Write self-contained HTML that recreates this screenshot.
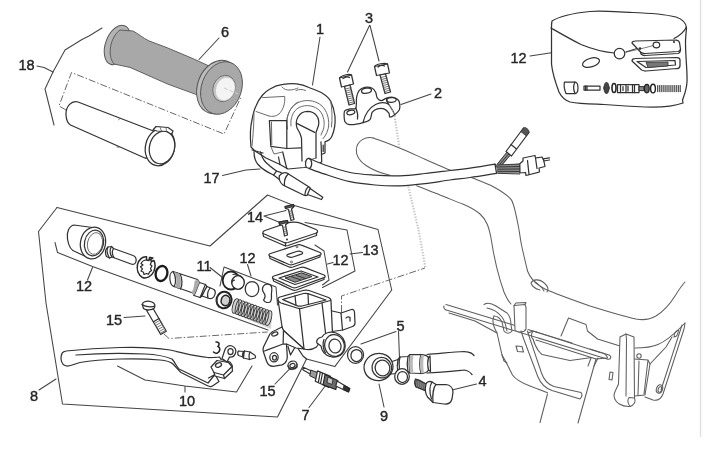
<!DOCTYPE html>
<html><head><meta charset="utf-8">
<style>
html,body{margin:0;padding:0;background:#fff;}
svg{display:block;}
.l{fill:none;stroke:#333;stroke-width:1.25;stroke-linecap:round;stroke-linejoin:round;}
.w{fill:#fff;stroke:#333;stroke-width:1.25;stroke-linecap:round;stroke-linejoin:round;}
.b{fill:none;stroke:#444;stroke-width:1.05;stroke-linecap:round;stroke-linejoin:round;}
.f{fill:none;stroke:#5e5e5e;stroke-width:1.05;stroke-linecap:round;stroke-linejoin:round;}
.fw{fill:#fff;stroke:#5e5e5e;stroke-width:1.05;stroke-linecap:round;stroke-linejoin:round;}
.hl{fill:none;stroke:#6a6a6a;stroke-width:1;stroke-linecap:round;stroke-linejoin:round;}
.t{fill:none;stroke:#555;stroke-width:0.8;stroke-linecap:round;stroke-linejoin:round;}
.d{fill:none;stroke:#686868;stroke-width:1;stroke-dasharray:7 2 1.5 2;}
.k{fill:none;stroke:#222;stroke-width:2;}
text{font-family:"Liberation Sans",sans-serif;font-size:14.5px;fill:#262626;stroke:#262626;stroke-width:0.4;}
</style></head>
<body>
<svg width="720" height="452" viewBox="0 0 720 452">
<defs><filter id="b" x="-2%" y="-2%" width="104%" height="104%"><feGaussianBlur stdDeviation="0.45"/></filter></defs>
<rect width="720" height="452" fill="#fff"/>
<g filter="url(#b)">
<!-- page edge lines -->
<path d="M700.500 0V437" stroke="#dedede" stroke-width="1.3" fill="none"/>
<!-- SECTION: grip 6 -->
<g id="grip">
<ellipse cx="117.500" cy="45" rx="12" ry="20.500" transform="rotate(20 117.500 45)" fill="#b4b4b4" stroke="#555" stroke-width="1"/>
<path d="M133 31 C138 33.500 143 38 148.800 40.800 L167.300 47.800 L193.400 58.800 L209 66 L200 96 L194.800 94 L167.500 84 L130 67.400 L114 64 C107 56 110 37 120 30 Z" fill="#a8a8a8" stroke="#555" stroke-width="0.9"/>
<ellipse cx="218" cy="87" rx="20.5" ry="27.5" transform="rotate(20 218 87)" fill="#bdbdbd" stroke="#555" stroke-width="1"/>
<ellipse cx="221.5" cy="88" rx="20" ry="27" transform="rotate(20 221.5 88)" fill="#a8a8a8" stroke="#555" stroke-width="0.9"/>
<ellipse cx="224" cy="88.500" rx="11" ry="13.5" transform="rotate(20 224 88.500)" fill="#c4c4c4" stroke="#666" stroke-width="0.8"/>
<ellipse cx="225.300" cy="89" rx="9.500" ry="12" transform="rotate(20 225.300 89)" fill="#f3f3f3" stroke="#bbb" stroke-width="0.5"/>
<path d="M224 88 L238 94" stroke="#ccc" stroke-width="1" stroke-dasharray="4 2"/>
</g>

<!-- SECTION: bracket 18, dashed box, tube -->
<g id="b18">
<path class="b" d="M102 28 L89 36 L82 39.5 L65 50 L53 72 L45 89 L54 125"/>
<path class="b" d="M37 66 L44 67.5 L53 72"/>
<path class="d" d="M66 110 L59 106 L71.5 72.5 L224 134 L241 97"/>
<!-- tube -->
<path class="w" d="M78 102 C72 100 65.500 106 66 115 C66.300 120 68 123.500 70.500 125 L146 158.500 L156 132 Z"/>
<path class="t" d="M118.500 119.800 L120 118.500 M117 147 L119 147.200"/>
<ellipse class="w" cx="160" cy="147" rx="14.5" ry="19" transform="rotate(14 160 147)"/>
<ellipse class="w" cx="162" cy="147.5" rx="12.5" ry="16.5" transform="rotate(14 162 147.5)"/>
<path class="w" d="M153 130 L156 126.5 L168 127.5 L173 131 L171.5 134.5 L167 131.5 L157 131 Z"/>
<path class="t" d="M160 127 L161.5 131 M166 127.5 L166.5 131.3"/>
</g>
<!-- SECTION: labels top -->
<g id="lab1">
<text x="18.5" y="70.3">18</text>
<text x="221" y="36.5">6</text>
<path class="b" d="M219 38 L199 59.5"/>
<text x="316" y="34">1</text>
<path class="b" d="M320 37 L312.5 85"/>
<text x="365" y="22.7">3</text>
<path class="b" d="M369.5 25.5 L347.5 72 M370 25.5 L379 61"/>
<text x="434" y="98">2</text>
<path class="b" d="M431 94 L401 104.5"/>
<text x="203.5" y="183">17</text>
<path class="b" d="M222.5 175.5 L246 170 L260 169"/>
<text x="510.5" y="62.5">12</text>
<path class="b" d="M530 56 L551.500 52.700"/>
</g>

<!-- SECTION: switch housing 1 -->
<g id="housing">
<path class="w" stroke-width="1.6" d="M251 147 C250 137 250.500 126 252 120 C253 114 254 110 256 106 C258 101 260 98 262.600 95 C266 91.500 268 90 270 89 C274 86.500 278 85 283 84.400 C288 83.600 292 83.500 296.600 83.800 C301 84.300 305 85.500 309 87.500 C314 89.500 318 91 322 93 C326 95.500 329 98 330.700 101.400 C333 106 334.500 111 335 116.500 C335.500 123 334.500 130 332 136 C330.500 139.500 328 141 325 141.800 L325 153 L321.500 154.500 L321.700 162 L313 166 L304 167.500 L288 169 L280 164.500 L266 158 L255 151 Z"/>
<!-- upper-left panel -->
<path class="hl" d="M262.600 97.600 L284.700 96.400 C285 100 284.500 103 284 105 C283 109 281 112 279 114 C276 116.500 272 116.800 269 116 L256 111.500"/>
<!-- top oval -->
<path class="hl" d="M282 87 C284 89.500 287 90.300 290 90 C293 89.800 296 89 298 88 M296 90.500 C299 89 303 89.200 305.500 90.500"/>
<!-- concentric arcs around hole (center ~307,122) -->
<path class="hl" d="M287.500 129 C285.500 120 288 110 295 104.500 C303 98.500 315 99.500 322 106 C327 111 329 118 328.700 125 C328.500 130 326 135.500 323 138.700"/>
<path class="hl" d="M291 126 C290 118 293 111 299 107.500 C306 104 315 105.500 320 111 C324 116 325 123 323.500 129 L321 135"/>
<path class="hl" d="M286.800 119.700 C288 112 292 105.500 298 102 M330.700 101.400 C332 108 332.500 118 331.500 127"/>
<!-- hole + slot (dark) -->
<path class="l" stroke-width="1.5" d="M297 128 C294.500 120 299 111.500 307.500 111.300 C315.500 111.300 320 118 318.500 125.500 L316 132.500 L316 158 M297 128 L300 133.500 L301.500 138 L302 161"/>
<path class="l" d="M296.700 123.400 L314.700 132.400"/>
<!-- button rect -->
<path class="l" d="M269.400 120.600 L286.800 120.600 L286.800 148.500 L270.800 146.400 Z"/>
<path class="hl" d="M271.500 122 L271.800 145"/>
<!-- lower details -->
<path class="l" d="M286.800 148.500 L300.800 147.800 M282.700 152 L286.800 168.700 M278.500 157 L280 164.500 M252 150 L263 153"/>
<path class="hl" d="M270.800 146.400 L274 154 L282.700 152 M316 158 L305 161.500"/>
<path class="l" d="M321 141.800 L321.500 154.500 M323.200 145 V151.500"/>
<path class="hl" d="M254 113 C254 124 253 136 252 146"/>
</g>
<!-- SECTION: bolts 3 and clamp 2 -->
<g id="clamp">
<path class="w" d="M339.5 78 L351.5 75 L353.5 84 L341.5 87 Z"/>
<path class="l" d="M339.5 78 C341 75.5 349 73.5 351.5 75 M343 78.5 C345 77 348 76.5 349.5 77.5"/>
<path class="w" d="M344.5 86.5 L350 85 L354.5 103.5 L349 105 Z"/>
<path class="t" d="M345.5 89 L351 87.6 M346 91 L351.5 89.6 M346.5 93 L352 91.6 M347 95 L352.5 93.6 M347.5 97 L353 95.6 M348 99 L353.5 97.6 M348.5 101 L354 99.6 M349 103 L354.5 101.6"/>
<path class="w" d="M374.5 66.5 L387.5 64 L389.5 73 L376.5 75.5 Z"/>
<path class="l" d="M374.5 66.5 C376 64 385 62.5 387.5 64 M378 67 C380 65.5 383 65.2 384.5 66"/>
<path class="w" d="M380 75 L385.5 74 L390.5 92 L385 93.5 Z"/>
<path class="t" d="M381 77.5 L386.5 76.2 M381.5 79.5 L387 78.2 M382 81.5 L387.5 80.2 M382.5 83.5 L388 82.2 M383 85.5 L388.5 84.2 M383.5 87.5 L389 86.2 M384 89.5 L389.5 88.2 M384.5 91.5 L390 90.2"/>
<!-- clamp -->
<path class="w" stroke-width="1.35" d="M344.1 113.9 C344.1 112.2 344.1 111.3 345.0 110.6 C345.9 109.8 348.4 109.3 350.0 108.9 C351.6 108.5 354.8 109.8 355.8 108.1 C356.8 106.4 356.1 99.9 356.6 97.3 C357.1 94.7 357.9 92.2 359.1 90.7 C360.3 89.2 362.9 87.8 364.9 87.4 C366.9 87.0 370.7 87.5 372.3 88.2 C373.9 88.9 374.9 90.8 375.7 92.3 C376.4 93.8 376.4 96.9 377.3 98.1 C378.2 99.3 380.1 100.6 381.5 100.6 C382.9 100.6 384.7 98.6 386.4 98.1 C388.1 97.6 391.4 97.0 393.1 97.3 C394.8 97.6 397.0 98.8 398.0 99.8 C399.0 100.8 399.5 102.4 399.7 103.9 C399.9 105.4 400.1 108.2 399.4 109.8 C398.6 111.4 396.1 113.6 394.7 114.7 C393.3 115.8 390.7 117.4 389.8 117.2 C388.9 117.0 389.8 114.3 388.9 113.1 C388.0 111.9 385.6 109.5 383.9 108.9 C382.2 108.3 379.0 108.4 377.3 108.9 C375.6 109.4 373.4 110.6 372.3 112.2 C371.2 113.8 371.3 118.1 369.9 119.7 C368.5 121.3 366.2 122.0 363.2 122.7 C360.2 123.5 352.7 124.9 350.0 124.7 C347.3 124.5 345.9 123.3 345.0 121.7 C344.1 120.1 344.1 115.6 344.1 113.9 Z"/>
<ellipse class="l" cx="366.5" cy="90.7" rx="5" ry="2.5" transform="rotate(-10 366.5 90.7)"/>
<ellipse class="l" cx="350.8" cy="112.5" rx="4" ry="2.1" transform="rotate(-12 350.8 112.5)"/>
<ellipse class="l" cx="391.4" cy="100" rx="4.8" ry="2.3" transform="rotate(-5 391.4 100)"/>
<path class="l" d="M363 122.500 C365 114 369 108 375.500 104.500 C380 102.300 385 102.500 388 104 M355.800 108.100 C357.500 112 358 116 357.500 119 M386.500 98.500 C386.500 101 387.500 103 389.500 105.500 C392 109 393.500 112 394.700 114.700"/>
</g>

<!-- SECTION: handlebar + frame right -->
<g id="bar">
<path class="f" d="M373.300 138 C366 136 357 140.500 356.300 149.500 C356 156 360 161.500 366 165.500 C372 169.500 380 173 390 175.200"/>
<path class="f" d="M373.3 138.0 C377.5 139.6 389.7 144.0 398.3 147.5 C406.9 151.0 416.4 155.4 425.0 159.2 C433.6 162.9 441.9 166.8 450.0 170.0 C458.1 173.2 466.1 175.5 473.3 178.3 C480.5 181.1 487.5 183.6 493.3 186.7 C499.1 189.8 504.9 193.6 508.3 196.7 C511.7 199.8 511.8 199.9 513.5 205.0 C515.2 210.1 517.2 220.3 518.5 227.0 C519.8 233.7 520.0 237.7 521.5 245.0 C523.0 252.3 526.5 266.7 527.5 271.0 C531 280 537 285 545 289 C556 294 570 299 590 306 C606 311 622 316 636 319 C644 320.5 650 319.5 656 316 C664 311 670 304 675 296 C680 288 683 284 685 282"/>
<path class="f" d="M416.700 185.800 C426 189.500 434 192.500 440 195 C449 198.500 457 202 463.300 204.200 C470 207 476 210.500 480 214 C487 220 489 228 491 238 C494 258 499 278 504 292 C507 299 509 302 511 304"/>
<!-- center dotted line -->
<path d="M394.5 116 L399.300 147 M408.300 186.500 L418.6 230 L425.5 268" fill="none" stroke="#c4c4c4" stroke-width="2.2" stroke-dasharray="1.3 1.5"/>
<path d="M395.5 116 L388 104" fill="none" stroke="#bbb" stroke-width="1.2" stroke-dasharray="1.2 1.6"/>
</g>
<!-- SECTION: cable and connectors -->
<g id="cable">
<path class="w" d="M309.0 158.3 C311.7 159.4 318.2 162.6 325.0 165.0 C331.8 167.4 341.7 170.8 350.0 172.5 C358.3 174.2 366.7 174.6 375.0 175.2 C383.3 175.8 391.7 176.1 400.0 175.8 C408.3 175.5 416.7 174.4 425.0 173.5 C433.3 172.6 442.5 171.4 450.0 170.5 C457.5 169.6 462.5 169.2 470.0 168.2 C477.5 167.1 490.8 164.9 495.0 164.2 L496.5 173.3 C492.1 174.0 477.8 176.4 470.0 177.5 C462.2 178.6 457.5 179.0 450.0 180.0 C442.5 181.0 433.3 182.7 425.0 183.7 C416.7 184.7 408.3 185.6 400.0 185.8 C391.7 186.0 383.3 185.7 375.0 185.0 C366.7 184.3 358.3 183.5 350.0 181.7 C341.7 179.9 332.2 176.6 325.0 174.2 C317.8 171.8 309.6 168.6 306.5 167.5 C304.500 165 305.500 158 309 158.300 Z"/>
<path class="l" d="M309 158.300 C312.500 160 312.500 166.500 309.500 168.600"/>
<path class="l" d="M495 164.200 C497.500 166 498.500 170.500 496.500 173.300"/>
<path d="M496.500 164.500 L507 152 L510.500 155 L503 165 L520 163.500 L520 173.500 L497.500 173.500 Z" fill="#8c8c8c" stroke="none"/>
<path d="M497 165 L520 164 M497 167 L520 166.500 M497.500 169.200 L520 169 M497.500 171.300 L520 171.500 M497.500 173.300 L520 174 M497 164.500 L507 152 M499.500 164.500 L509 153.500 M502 164.500 L510.500 155" stroke="#2c2c2c" stroke-width="0.900" fill="none"/>
<path class="w" d="M506 151.500 L511.500 156 L529 132.500 L523.500 128 Z"/>
<path d="M520.800 131.500 L523.500 128 C525 126.500 529.500 129.500 529 132.500 L526.300 136 Z" fill="#555" stroke="#333" stroke-width="0.800"/>
<path class="l" d="M511 144.500 L516.500 149"/>
<path class="w" d="M519.800 163.800 L523 161 L523 158 L535 155.500 L535.500 158 L542 157 L543.700 160 L545 166.500 L539 168 L539.500 172 L526 175.500 L525.500 172.500 L520 173 Z"/>
<path class="l" d="M543 158.800 L549.500 157.800 M543.500 161 L549.500 160 M527.500 160.500 L529 174.500 M535.500 158 L537 168.500"/>
<!-- wire 17 -->
<path class="l" stroke-width="1.4" d="M254 151.500 C254 157 255 161 258 164.500 C262 169 268 172.500 273.500 175 M260.500 152 C261.500 156 263 159.500 266 162.500 C269 165.500 273 168.500 276.500 171"/>
<path class="w" stroke-width="1.4" d="M273.500 175 L276.500 171 L280.500 172.300 L284 175.500 L280 180 Z"/>
<path class="w" stroke-width="1.4" d="M279.500 175.500 C281 173.500 284 172.300 286.500 172.800 L309.500 187.300 C311 188.500 311 190 310 191.500 L308 194.500 C307 195.500 305.500 195.800 304 195.200 L283 185 C280 183 278.500 178.500 279.500 175.500 Z"/>
<path class="l" d="M288.500 173.800 C285.500 176.500 284 181 284.500 185.500 M308.500 186.800 C306.500 188.500 305 191.500 305 195"/>
<path class="w" stroke-width="1.300" d="M310 188.500 L322.800 197.300 L321.500 199.500 L307.500 194.500 Z"/>
</g>

<!-- SECTION: frame bottom-right -->
<g id="frame">
<!-- small bolt on bar -->
<path class="f" d="M531 283 C533 279 539 279 543 282 C547 285 549 289 547 292 M535 282 C538 284 542 287 544 291 M531 283 C532 286 536 289 540 290"/>
<!-- upper bar double line -->
<path class="f" d="M444 306 C443 308 445 310 448 310.500 L607 359 M446 304.500 L520 327 M528 329.500 L572 343 M590 349 L609 355 C612 356.500 611 360 607 359"/>
<!-- left plate -->
<path class="f" d="M449 313 L475 321 L486 327 L497 333"/>
<path class="f" d="M484 304.500 C487 302.500 492 303.500 496 306 L507 313 C510 316 511 320 511 325 L512 331 C510 334 506 334 504 331 L502 322 C500 318 497 316 494 316 M487 308 C492 309 498 312 502 317 C505 321 506 326 507 331"/>
<path class="f" d="M494 316 C492 320 493 326 497 333 L502 355 L506 362 L512.500 375 C516 380 522 383 530 386 L547.500 392.700"/>
<path class="f" d="M502 355 L504 361 L507 363"/>
<path class="fw" d="M514 305.500 L525 304.500 L526 307 L526 329 C524 333 518 333 515 330 Z"/>
<path class="f" d="M514 305.500 L516 303 L526 302.500 L525 304.500"/>
<path class="f" d="M516 346 L522 346.500 L523.500 352 L517.500 351.500 Z"/>
<path class="f" d="M521 331 L523.700 339 L538 377 C540 382 545 388 552 390.500 L580 399 C582 397 582.500 394.500 581 392.500 M527.500 331 L530 339 L541.500 373 C543.500 379 548 384.500 554 386.500 L581 392.500"/>
<!-- tray -->
<path class="f" d="M528 333 L533 331 L600 352.500 M533 331 C531 334 531 337 533 339 M536 340 L596 359 L607 358"/>
<path class="f" d="M533 339 C535 346 538 351 542 354.500 L570 360.500 L592 357.500"/>
<path class="f" d="M596 359 L578 423 M591 358 L588 366 M547.500 394 L540 422.500"/>
<path class="f" d="M600 352.500 C604 353 607 355 607.500 358 M598 358 L594 366"/>
<!-- stepped block -->
<path class="f" d="M561 336 L568.500 318 L586 324.500 L587.500 331 L597.500 339 L620 346"/>
<!-- second body line -->
<path class="f" d="M635 348 C645 348 652 347 658 344.500 C666 341 674 334 680 328 L685 323"/>
<!-- vertical bar -->
<path class="fw" d="M620 337 L626 334 L634 337 L634.500 398 C636 402 634 405 630 406.500 C622 407 615 403 614 396 C614 392 617 388 618.500 384 Z"/>
<path class="f" d="M626 334 L626.500 340 L626 396 M630 406.500 C628 404 627 400 629 397.500 L634.500 398"/>
<path class="f" d="M610 372 L613 372.500 L612 380 L609 379.500 Z"/>
<!-- block behind -->
<path class="f" d="M634.500 359 L648 360 L650 364 L645 395 L634.500 396 M639 361 L638 395 M648 360 L644 394"/>
<circle class="f" cx="639" cy="356" r="2.200"/>
<!-- right arm -->
<path class="f" d="M685 323 L684 329 L663 394 C661 399 657 401 653 400 L645 397"/>
<path class="f" d="M672 337 L666 347 L650 364 M678.500 330 C676 331 674 334 674 337 C676 337 678 335 678.500 330"/>
<path class="f" d="M682 325 L661 390"/>
<ellipse class="f" cx="659.500" cy="389" rx="3" ry="4.300" transform="rotate(20 659.500 389)"/>
<ellipse class="f" cx="660" cy="389.500" rx="1.800" ry="2.800" transform="rotate(20 660 389.500)"/>
</g>

<!-- SECTION: inset bag 12 -->
<g id="bag">
<path class="l" d="M552 21 C560 16 575 13 590 11.500 C604 10.500 618 12 632 12.500 C648 13 664 14 676 17 C682 19 686 23 686.500 28 C686 34 685.500 38 685.500 42 C685.500 50 686 56 686.300 62 C686.800 70 687.300 76 687 82 C686.500 90 684 96 682.500 100 L683 103 C672 107 658 107.500 645 107 C630 106.500 616 105.500 604 104.500 C592 104 580 104 570 102 C564 100 561 96 559 92 C556 84 552.500 74 551.500 64 L551.500 28 C551.500 25 551.500 23 552 21 Z"/>
<path class="l" d="M551 28 C558 32 570 39 581 44.500 C592 49 604 52 614 53 M626 52 C632 50 638 48 643 46.500 M686.500 27 C684 32 680 35.500 674 38.500"/>
<circle class="w" cx="619.500" cy="53.600" r="5.300"/>
<ellipse class="l" cx="591" cy="62.600" rx="8.800" ry="4.300" transform="rotate(-17 591 62.600)" stroke-width="1.700"/>
<!-- plate 1 -->
<path class="w" d="M632 43 C632 41.500 633 41 635 41 L676 40 C678 40 679 41 679.500 42.500 L680.500 49 C680.500 50.500 680 51 678 51.500 L645 53.500 C643 53.500 641.500 53 640.500 52 Z"/>
<path class="l" d="M640.500 52 L641 54 C642 55 643.500 55.500 645 55.500 L678 53.500 C680 53 680.500 52 680.500 49"/>
<ellipse class="l" cx="656.400" cy="45" rx="3.300" ry="2.800"/>
<path class="t" d="M626 52 L640 49 L653.500 45.500"/>
<circle cx="640" cy="48.500" r="1.300" fill="#333"/><circle cx="674" cy="42" r="1.100" fill="#333"/>
<!-- plate 2 -->
<path class="w" d="M632 61 C632 59.500 633 58.500 635 58.500 L677 57.500 C679 57.500 680 58.500 680 60 L680 65.500 C680 67.500 679 68.500 677 68.500 L646 71 C643 71 641 70 640 68.500 Z"/>
<path class="l" d="M637 61.500 L675 60.500 L675.500 65 L646 67.500 Z"/>
<path d="M646 62.500 L668 62 L668 66 L648 67.500 Z" fill="#777" stroke="#333" stroke-width="0.8"/>
<!-- piston row -->
<path class="w" d="M564.500 82 L575 82 C577.500 82 578 85 578 88 C578 91 577.500 93.500 575 93.500 L566 93.500 C564.500 90 563.500 86 564.500 82 Z"/>
<path class="l" d="M575 82 C573.500 85 573.500 90 575 93.500"/>
<path class="w" d="M584 86 L600 86 L600 90 L584 90 Z"/>
<path class="l" d="M587 86 V90 M585.500 86 V90"/>
<path d="M603.500 88 L605 83.500 L606.500 82 L608 83.500 L609.500 88 L608 92.500 L606.500 94 L605 92.500 Z" fill="#444" stroke="#222" stroke-width="0.8"/>
<ellipse cx="614" cy="88" rx="2" ry="4.500" fill="none" stroke="#222" stroke-width="1.600"/>
<g transform="translate(0 0.6)">
<path class="w" d="M617.500 84 L639 84 L639 92 L617.500 92 Z"/>
<path class="l" d="M620.500 84 V92 M626 84 V92 M628 85.500 V90.500 M632.500 84 V92 M634.500 84 V92 M623 86 V90"/>
<path d="M639 86 L644 86 L644 90 L639 90 Z" fill="#888" stroke="#222" stroke-width="0.900"/>
<ellipse cx="646.800" cy="88" rx="2.400" ry="4.300" fill="#666" stroke="#222" stroke-width="1.200"/>
<ellipse cx="653" cy="88" rx="2.400" ry="4.300" fill="#fff" stroke="#222" stroke-width="1.400"/>
<path d="M657 84.500 H680.500 V91.500 H657 Z" fill="#c8c8c8" stroke="none"/>
<path d="M657.500 84.500 V91.500 M659.600 84.500 V91.500 M661.700 84.500 V91.500 M663.800 84.500 V91.500 M665.900 84.500 V91.500 M668 84.500 V91.500 M670.100 84.500 V91.500 M672.200 84.500 V91.500 M674.300 84.500 V91.500 M676.400 84.500 V91.500 M678.500 84.500 V91.500 M680.400 84.500 V91.500" stroke="#444" stroke-width="0.900" fill="none"/>
</g>
</g>

<!-- SECTION: brackets lower-left -->
<g id="brk">
<path class="b" d="M57 207.500 L38.500 231.500 L46 303 L62.500 404 L277.500 417 L306.500 359 L334.800 366.600 L391.700 290"/>
<path class="b" d="M57 207.500 L210 246 L267.500 195 L292.500 205 L378 229.500 L391.700 290"/>
<path class="b" d="M55 242.500 L57.500 252.500 L92.500 266.500 L268 330"/>
<path class="d" d="M164 334 L169 338.500 L267.500 332"/>
<path class="d" d="M341.500 312 L341.500 296 L425 268"/>
<path class="b" d="M305 222.500 L347 230 L355 271 L322.500 287.500"/>
<path class="b" d="M315 245 L324 251 L329 280 L322.500 285"/>
<path class="b" d="M220 286 L224 267 L276 287 L277.500 305"/>
<path class="b" d="M117.500 366 L145 380 L185 386 L236.500 392 L252 366 M185 386 V392"/>
</g>
<!-- SECTION: labels lower -->
<g id="lab2">
<text x="247" y="221.500">14</text>
<path class="b" d="M264 216 L286 210.500 M264 216 L280 222.500"/>
<text x="362.500" y="255">13</text>
<path class="b" d="M350 254 L362.500 252.500"/>
<text x="332.500" y="265">12</text>
<path class="b" d="M327.500 264 L333 262.500"/>
<text x="239.500" y="263">12</text>
<path class="b" d="M247.500 264.500 L251 276"/>
<text x="196.500" y="270.500">11</text>
<path class="b" d="M210 267.500 L222.500 277.500"/>
<text x="76" y="291">12</text>
<path class="b" d="M92.500 267.500 L87.500 280"/>
<text x="106" y="325">15</text>
<path class="b" d="M124 317.500 L145 316"/>
<text x="30" y="400.500">8</text>
<path class="b" d="M39 390 L56 379"/>
<text x="179" y="405.500">10</text>
<text x="259.500" y="395.500">15</text>
<path class="b" d="M275 384 L291 367.500"/>
<text x="301.500" y="419.500">7</text>
<path class="b" d="M309 407.500 L326 385"/>
<text x="380" y="420.500">9</text>
<path class="b" d="M384 407 L379 384"/>
<text x="396.500" y="330.500">5</text>
<path class="b" d="M396 331.500 L361 344 M398.500 331.500 L400 372"/>
<text x="478.500" y="386">4</text>
<path class="b" d="M476.500 384 L452 390"/>
</g>

<!-- SECTION: piston line parts -->
<g id="parts1">
<!-- cap 12 -->
<path class="w" d="M74 225 C69 226 66.500 232 67.500 239 C68.500 246 72 251 76 252 L90 258.500 L96 228 Z"/>
<ellipse class="w" cx="93" cy="243" rx="12.500" ry="16" transform="rotate(12 93 243)"/>
<ellipse class="l" cx="94" cy="243" rx="9.500" ry="13" transform="rotate(12 94 243)"/>
<ellipse class="t" cx="95" cy="243.500" rx="7.500" ry="11" transform="rotate(12 95 243.500)"/>
<!-- pin -->
<path class="w" d="M108 247 L111.500 246.500 L113.500 248.500 L133 255.500 C135.500 256.500 136.500 259 136 261.500 C135.500 264 133.500 265 131 264 L112 257 L109.500 258 L106.500 256.500 C105 253 105.500 249 108 247 Z"/>
<path class="l" d="M111.500 246.500 C109.500 249.500 109.500 254 112 257 M113.500 248.500 C112 251 112 254.500 114 257.500 M108 247 C106.500 250 107 254 109.500 258"/>
<!-- star washer -->
<path d="M146.500 256.800 C142.500 256.300 138.800 259.500 137.500 264.500 C136.300 270 138.500 275.500 142.500 277.500 C146.500 279 151.500 276.500 153.800 271.500 C155.300 268 155.300 263.500 154 260.500 L151.500 261.500 L150.500 259.500 L152.800 258 C151.500 257.300 150.500 257.300 149.500 257.500 L149 260.500 L146.500 260 Z" fill="#fff" stroke="#2a2a2a" stroke-width="1.500" stroke-linejoin="round"/>
<path d="M146.500 260 C144 260 142 261.500 141 263.500 L143 265 L140.500 266.800 L142.500 268.800 L141 271 L143.500 272.300 L144 274.500 L146.500 273.500 L148.500 274.300 L149.500 272 L151.500 270.500 L150.500 268.500 L152 266 L150.300 264.500 L151.500 261.500" fill="none" stroke="#2a2a2a" stroke-width="1.200" stroke-linejoin="round"/>
<!-- o-ring -->
<ellipse cx="161.500" cy="273.500" rx="5.800" ry="7.600" transform="rotate(14 161.500 273.500)" fill="none" stroke="#1a1a1a" stroke-width="2.300"/>
<!-- piston -->
<path class="w" stroke-width="1.600" d="M173 271.500 C170.500 272 169.500 276 170 280 C170.500 283.500 172 286 174 286.500 L193 293 L194 295.500 L200 297.500 L202 296 L208 298 C210 299 212.500 298.500 214 296.500 C215.500 294 215.500 291 214 289.500 L207 286.500 L205.500 284.500 L199.500 282.500 L197.500 279.500 Z"/>
<path class="l" d="M174 286.500 C176 284 176.500 276 173 271.500 M177.500 273 C180 277 180 284 178 288 M180 274 C182.500 278 182.500 285 180.500 289 M193 293 C195.500 289 196 283 197.500 279.500 M194 295.500 C196.500 291 197.500 286 199.500 282.500 M200 297.500 C202.500 293 203.500 288 205.500 284.500 M202 296 C204 292.500 205 289 207 286.500 M208 298 C207 295 208 291 210 288"/>
<path d="M174 272 L179 273.600 C181.500 278 181.500 285 179.500 288.600 L175 287 C177 283 177 276 174 272 Z M194.500 281 L197.500 279.500 L199.500 282.500 C197.500 286 196.500 291 194 295.500 L191.500 292.500 C194 289 194.500 284 194.500 281 Z" fill="#aaa" stroke="none"/>
<!-- seal -->
<ellipse cx="224" cy="300" rx="7.500" ry="8.300" transform="rotate(15 224 300)" fill="#fff" stroke="#222" stroke-width="2"/>
<ellipse cx="225.500" cy="300.500" rx="4.300" ry="5.200" transform="rotate(15 225.500 300.500)" fill="#d0d0d0" stroke="#222" stroke-width="1.500"/>
<path class="l" d="M217.500 296 C216 299 216.500 304 219 307"/>
<!-- spring -->
<g transform="translate(0 2)"><path d="M234 297 L272 311 L271 327 L232 311 Z" fill="#d2d2d2" stroke="none"/>
<g fill="none" stroke="#3a3a3a" stroke-width="0.950">
<ellipse cx="235.500" cy="304" rx="2.800" ry="7.500" transform="rotate(14 235.500 304)"/>
<ellipse cx="238.500" cy="305.100" rx="2.800" ry="7.500" transform="rotate(14 238.500 305.100)"/>
<ellipse cx="241.500" cy="306.200" rx="2.800" ry="7.500" transform="rotate(14 241.500 306.200)"/>
<ellipse cx="244.500" cy="307.300" rx="2.800" ry="7.500" transform="rotate(14 244.500 307.300)"/>
<ellipse cx="247.500" cy="308.400" rx="2.800" ry="7.500" transform="rotate(14 247.500 308.400)"/>
<ellipse cx="250.500" cy="309.500" rx="2.800" ry="7.500" transform="rotate(14 250.500 309.500)"/>
<ellipse cx="253.500" cy="310.600" rx="2.800" ry="7.500" transform="rotate(14 253.500 310.600)"/>
<ellipse cx="256.500" cy="311.700" rx="2.800" ry="7.500" transform="rotate(14 256.500 311.700)"/>
<ellipse cx="259.500" cy="312.800" rx="2.800" ry="7.500" transform="rotate(14 259.500 312.800)"/>
<ellipse cx="262.500" cy="313.900" rx="2.800" ry="7.500" transform="rotate(14 262.500 313.900)"/>
<ellipse cx="265.500" cy="315" rx="2.800" ry="7.500" transform="rotate(14 265.500 315)"/>
<ellipse cx="268.500" cy="316.100" rx="2.800" ry="7.500" transform="rotate(14 268.500 316.100)"/>
</g></g>
<!-- seal 11 -->
<ellipse cx="231" cy="280.500" rx="8.300" ry="9" fill="#fff" stroke="#222" stroke-width="1.800"/>
<ellipse cx="238" cy="282.500" rx="6.300" ry="6.800" fill="#fff" stroke="#222" stroke-width="1.300"/>
<path class="l" d="M233 274.500 C236 273.800 240 275 242 277.500 M231.500 283 C232 281 233 280 234.500 280"/>
<!-- ring 12 -->
<ellipse class="w" cx="252" cy="289" rx="6.800" ry="7.500"/>
<!-- clip -->
<path class="l" d="M263.500 286 C262 288 262.500 291 264 293 C265.500 295 265 298 263.500 300 C265 302.500 268 303 270 302 C272.500 300 271 296 271.500 293 C272 290 272.500 287 270.500 285 C268.500 283.500 265 284 263.500 286 Z"/>
</g>

<!-- SECTION: plates and screws -->
<g id="plates">
<!-- cover plate -->
<path class="w" stroke-width="1.4" d="M263 233.500 C262.500 232 263.500 231 265 230.500 L286 223.300 C291 222 297 222 301 223.300 L316 229.500 C318 230.500 318 232 316.500 233 L316.500 235.500 L288 245.500 C286 246 284.500 246 283 245 L263.500 236.500 Z"/>
<path class="l" d="M263 233.500 L283 242 C284.500 243 286 243 288 242.500 L316.500 233"/>
<path class="l" d="M285.500 242.800 V245.800"/>
<circle cx="287" cy="239.500" r="1" fill="#333"/>
<!-- screws 14 -->
<path class="w" d="M285 206.500 L293.500 204.500 L294 206.500 L291.500 209 L294 219.500 L291 220.500 L288.500 209.500 L285.500 208.500 Z"/>
<path class="t" d="M289 211.500 L292 210.800 M289.500 213.500 L292.500 212.800 M290 215.500 L293 214.800 M290.500 217.500 L293.500 216.800"/>
<path class="w" d="M279 222 L287.500 220.500 L288 222.500 L285.500 225 L287.500 235 L284.500 236 L282.500 225.500 L279.500 224.500 Z"/>
<path class="t" d="M283 227.500 L286 226.800 M283.500 229.500 L286.500 228.800 M284 231.500 L287 230.800 M284.500 233.500 L287.500 232.800"/>
<path d="M285 206.500 L293.500 204.500 L294 206.500 L285.500 208.500 Z M279 222 L287.500 220.500 L288 222.500 L279.500 224.500 Z" fill="#555" stroke="#222" stroke-width="0.800"/>
<!-- gasket plate -->
<path class="w" d="M269.500 256 C268.500 255 269 254 270.500 253.500 L297 245 C298.500 244.500 300 244.500 301.500 245.200 L320 252.500 C321.500 253.300 321.500 254.500 320 255.200 L320 257 L293 267 C291.500 267.500 290 267.500 288.500 266.800 L270 258.500 Z"/>
<path class="l" d="M269.500 256 L289 264.500 C290.500 265 291.500 265 293 264.500 L320 255.200"/>
<path class="l" d="M288 256.500 C286.500 256 286.500 255 288 254.300 L296.500 251.500 C298 251 300 251 301.500 251.800 C303 252.500 303 253.500 301.500 254.200 L293 257 C291.500 257.500 289.500 257.300 288 256.500 Z"/>
<circle cx="297" cy="246.800" r="1" fill="none" stroke="#333" stroke-width="0.700"/><circle cx="291.500" cy="262" r="1" fill="none" stroke="#333" stroke-width="0.700"/>
<!-- diaphragm -->
<path class="w" d="M273 278.500 C272 277.500 272.500 276.500 274 276 L300.500 267.500 C302 267 303.500 267 305 267.600 L324 275 C325.500 275.800 325.500 277 324 277.700 L324 279.500 L296.500 290 C295 290.500 293.500 290.500 292 289.800 L273.500 281 Z" stroke-width="1.500"/>
<path class="l" d="M273 278.500 L292.500 287.500 C294 288 295 288 296.500 287.500 L324 277.700"/>
<path class="l" d="M279 278 L301 271 L318 277 L295 284.500 Z"/>
<path d="M285 278 L301.500 272.800 L312 276.500 L295 282.300 Z" fill="#8a8a8a" stroke="#222" stroke-width="0.900"/>
<path d="M296 275.300 L306 278.800 M291 276.500 L301 280" stroke="#222" stroke-width="0.800" fill="none"/>
</g>
<!-- SECTION: reservoir / master cylinder -->
<g id="mc">
<!-- right ear -->
<path class="w" d="M330 310.500 L341 313 L351.500 309.500 C353.500 309.300 354.500 310.500 354.500 312.500 L355 323 C355 325 354 326 352.500 326.500 L343 330 L332 331.500 Z"/>
<path class="l" d="M341 313 L342.500 330 M346 318 C347 316.500 349 316.500 350 317.500 L350 321"/>
<!-- body -->
<path class="w" stroke-width="1.5" d="M278 300 C277.500 298.500 278.500 297.500 280 297 L303 290.500 C305 290 307 290 309 290.500 L328.500 297.500 C330.500 298.300 331 299.500 331 301 L332.500 334 C331 337 328 338.500 324 339 L320 341.500 L316.500 347 C313 349.500 308 350 304 349 L283.500 330.500 C282.500 329.500 282 328 282 326.500 Z"/>
<path class="l" d="M278 300 C278.500 301.500 279.500 302.300 281 303 L297 308 C299 308.700 301 308.700 303 308 L330.500 300.500"/>
<path class="l" d="M282.500 299.500 L303.500 293.500 C305 293.200 306.500 293.200 308 293.700 L326 300 L302 306 C300.500 306.400 299 306.300 297.500 305.800 Z"/>
<path class="l" d="M299.500 308.600 L304 349 M308 293.700 L308.500 304.500 M295 295.800 L296 305.300"/>
<path class="l" d="M322 303 L326 337"/>
<!-- bore cylinder -->
<path class="w" d="M322 337 C324 333 330 331 336 333 C342 335 346 341 345 348 C344 354 338 358 332 357 C326 356 322 352 321 346 L317 343 C316 340 318 337.500 322 337 Z"/>
<ellipse class="l" cx="334.500" cy="345.500" rx="9.800" ry="11" transform="rotate(-10 334.500 345.500)" stroke-width="1.500"/>
<ellipse class="l" cx="335" cy="346" rx="6" ry="7"  transform="rotate(-10 335 346)"/>
<path class="l" d="M324 339.500 C322.500 343 323 349 325.500 353"/>
<!-- mount lug -->
<path class="w" stroke-width="1.4" d="M282 327 L276 330 C273 331 271 332.500 269.900 334 L263.500 347 C263 348.500 263 350 263.300 351.500 L266.500 361 C267.500 364 270 366.300 273.200 366.400 L282 364.800 C285.500 363.500 287.300 360 287.300 356.500 L286.500 344 L296 348 L304 349 L283.500 330.500 Z"/>
<path class="l" d="M264.500 351 L267.400 349.800 L283.100 344 L286.500 344 M283.100 344 L283.500 330.500"/>
<ellipse class="l" cx="274" cy="357.300" rx="4.200" ry="4.600" stroke-width="1.700"/>
<ellipse class="l" cx="274.500" cy="357.800" rx="2" ry="2.400"/>
<ellipse class="l" cx="274.800" cy="334" rx="3.200" ry="1.800" transform="rotate(-20 274.800 334)" stroke-width="1.500"/>
<path class="l" d="M288 346.500 L290.500 355 L294.500 348 M298 348.500 L303 356 L306.500 359"/>
</g>

<!-- SECTION: lever etc -->
<g id="lever">
<path class="w" d="M66 351 C63 351 61 354 61 359 C61.500 363 64 366 67.500 366 C72 366 75 363.500 80 362.500 C92 360.500 106 359.500 120 359 C136 358.500 150 359 160 360 C166 360.500 170 361.500 173 364 C176 367 178 370 181 372.500 L207 385.500 C209 386.500 211 387 212.500 386 L219 381.500 L215 374.500 L220 376 L231 369 C232.500 368 232.500 366.500 232 365 L230 362 L221 359.500 L219.500 357 C216 357.500 212 357.500 208 357.500 C196 356.500 184 353 170 350 C154 347.500 136 347 120 347.500 C100 348 80 349.500 66 351 Z"/>
<path class="l" d="M76 355 C96 353.500 120 353 145 354 C156 354.500 166 356.500 172 359 C175 362 176 366 179 369 L208 383 L215 374.500 L208.500 378"/>
<path class="w" d="M211 367 L217 360.500 L228.500 362.500 L232 366.500 L232.500 371 L224.500 378.500 L215 376 L214 372.500 Z"/>
<path class="l" d="M214 372.500 L223.500 375 L232 366.500 M223.500 375 L224.500 378.500"/>
<ellipse class="l" cx="218.500" cy="365" rx="3.200" ry="2" transform="rotate(-25 218.500 365)" stroke-width="1.500"/>
<!-- tab with hole -->
<path class="w" d="M222 358.500 L225 349.500 C226 346.500 229 345 232 346 C235 347 236.500 350 235.500 353 C234.500 356 232 357.500 229.500 357 L227 362 Z"/>
<ellipse class="l" cx="230.500" cy="351.500" rx="2.600" ry="3"/>
<!-- clip -->
<path d="M216 342 C219 341.500 220 344 218 346.500 C220.500 347.500 220.500 351 217.500 353 C216 353.500 214.500 353 213.500 352" fill="none" stroke="#222" stroke-width="1.500" stroke-linecap="round"/>
<!-- small pin -->
<path class="w" d="M238.500 351 C237.500 352 237.500 354.500 238.500 355.500 L243 357 L243.500 358 L249.500 359.500 L255 358 C256 357 255.500 355.500 254.500 355 L250 352 L244.500 351 L243.500 351.500 Z"/>
<path class="l" d="M243.500 351.500 C242.500 353 242.500 355.500 243 357 M244.500 351 C243.800 353 243.800 356 243.500 358 M250 352 C249 354 249 357.500 249.500 359.500"/>
<!-- pin 15 -->
<path class="w" stroke-width="1.4" d="M146.700 310.500 L160.700 334.500 L166.300 331.300 L152.800 308 Z"/>
<path class="w" stroke-width="1.4" d="M142.200 304.500 C142.500 302 146 300.800 149.500 301.300 C153 301.800 155.300 303.800 154.800 306 L154.300 308 C152 310.500 146 310.500 143.500 308.500 Z"/>
<path class="l" d="M142.200 304.500 C144.500 306.800 151.500 307.500 154.800 306 M153.500 321.700 L159 318.500"/>
<path class="t" stroke="#333" d="M154.500 323.500 L160 320.300 M155.700 325.500 L161.200 322.300 M156.900 327.500 L162.400 324.300 M158.100 329.500 L163.600 326.300 M159.300 331.500 L164.800 328.300 M160.300 333.300 L165.700 330.200"/>
<!-- nut 15 -->
<ellipse class="w" cx="292.500" cy="365" rx="4.600" ry="3.800" transform="rotate(-20 292.500 365)" stroke-width="1.400"/>
<ellipse class="l" cx="292.500" cy="365.500" rx="2.600" ry="2" transform="rotate(-20 292.500 365.500)"/>
<path class="l" d="M288 366 L289 368.500 C291 370 295 369.500 297 367 L297 364.500"/>
</g>
<!-- SECTION: switch 7, banjo, washers, bolt 4, hose -->
<g id="banjo">
<!-- switch 7 -->
<path class="w" d="M303.300 367.300 L311.500 371 L310.500 374.300 L302.800 369.700 Z"/>
<path d="M310.700 370 L317.800 372.500 L316.500 379 L309.800 375.800 Z" fill="#9a9a9a" stroke="#2a2a2a" stroke-width="1"/>
<path class="w" stroke-width="1.4" d="M317.500 370.800 L330.500 376.300 L328.300 387.300 L315.300 381.300 Z"/>
<path d="M320.300 372 L318.300 382.700 M322.500 373 L320.500 383.700" stroke="#2a2a2a" stroke-width="1.200" fill="none"/>
<path d="M325 374.500 L337.800 380.500 L335.800 389.500 L323 384.800 Z" fill="#6a6a6a" stroke="#222" stroke-width="1.100"/>
<path d="M328 377 L333 379.500 L332 384.500 L327 382.500 Z" fill="#c8c8c8" stroke="#222" stroke-width="0.800"/>
<path class="w" d="M337 381 L349.800 388.500 L348.500 392 L335.800 386 Z"/>
<path d="M344 385.200 L349.800 388.500 L348.500 392 L343 389.500 Z" fill="#333" stroke="#222" stroke-width="0.800"/>
<!-- hose -->
<path class="l" d="M427 354.500 C440 353.500 454 352 464 351.500 C469 351.500 472 353 474 355.500 M427 373 C440 372.500 454 371 464 370 C468 370.500 470 372 472 374.500"/>
<!-- banjo tube -->
<path class="w" d="M389 362.500 L398 359.500 L400 357 L408 356.500 L410 354.500 L421 354.500 C424 354.500 427 355.500 428.500 357.500 L430 356 L430.500 371.500 L428.500 370 C427 372.500 424 373.500 421 373.500 L410 373 L408 371.500 L400 372 L398 373.500 L391 374 Z"/>
<path class="l" d="M400 357 C399 361 399 367 400 372 M408 356.500 C407 361 407 366.500 408 371.500 M410 354.500 C409 360 409 367.500 410 373 M421 354.500 C419.500 360 419.500 367.500 421 373.500 M428.500 357.500 C427.500 361 427.500 366 428.500 370 M398 359.500 C397 364 397 369 398 373.500"/>
<path d="M410 355 L413.500 355 C412.500 360 412.500 367.500 413.500 372.800 L410 372.800 C409 367.500 409 360 410 355 Z M421 355 L424 355.500 C423 360 423 367.500 424 373 L421 373.300 C419.500 367.500 419.500 360 421 355 Z" fill="#bbb" stroke="none"/>
<!-- banjo ring -->
<ellipse class="w" cx="378.500" cy="367" rx="14.500" ry="13.500" transform="rotate(-15 378.500 367)"/>
<ellipse class="w" cx="381.800" cy="367.700" rx="9.800" ry="10.300" transform="rotate(-15 381.800 367.700)"/>
<ellipse class="l" cx="382.500" cy="368" rx="7.300" ry="8" transform="rotate(-15 382.500 368)"/>
<!-- washers -->
<ellipse class="w" cx="355.500" cy="355" rx="8" ry="8.300"/>
<ellipse class="l" cx="356.500" cy="355.500" rx="5.600" ry="6"/>
<ellipse class="w" cx="402" cy="376.500" rx="7.300" ry="7.800"/>
<ellipse class="l" cx="402.500" cy="377" rx="5" ry="5.500"/>
<!-- bolt 4 -->
<path class="w" d="M415.500 379 C414.500 381 414.500 384.500 416 387 L426 391 L428 385 L419 380 Z"/>
<path d="M416 379.500 L427 384.500 L425.500 390.500 L415.500 386.500 Z" fill="#888" stroke="#222" stroke-width="0.900"/>
<path class="t" d="M418 380 L417.500 387.500 M420 381 L419.500 388.200 M422 382 L421.500 389 M424 383 L423.500 390"/>
<path class="w" d="M426 384 C427 381.500 430 381 432 382 L436 384.500 L446 384.500 C450 385 453 388 453 392 L452 399 C451 402.500 448 404.500 444 404 L433 402.500 L427.500 397 C425 393 425 388 426 384 Z"/>
<path class="l" d="M436 384.500 C433 388 432.500 397 433 402.500 M432 382 C429.500 386 429.500 393 431.500 399"/>
</g>
</g>
</svg>
</body></html>
